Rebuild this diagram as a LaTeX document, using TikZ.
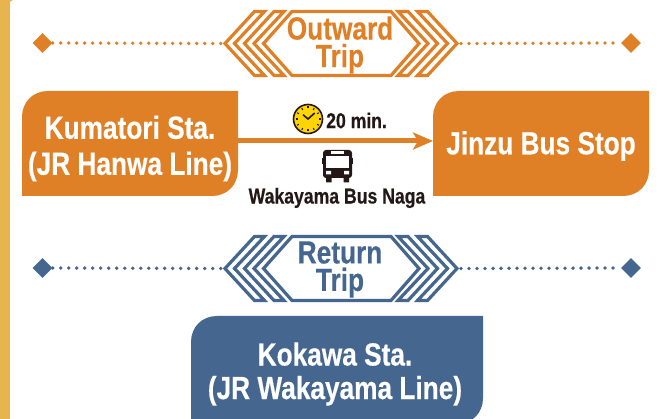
\documentclass[tikz,border=0pt]{standalone}
\usepackage{fontspec}
\setmainfont{Liberation Sans}[FakeStretch=0.82,BoldFont={Liberation Sans Bold},BoldFeatures={FakeBold=0.35}]
\usetikzlibrary{shapes.geometric,arrows.meta}
\definecolor{org}{HTML}{E08026}
\definecolor{blu}{HTML}{44668F}
\definecolor{gold}{HTML}{E8B450}
\definecolor{clk}{HTML}{FFD500}
\definecolor{ink}{HTML}{231815}
\newcommand\bannerat[2]{%
 \begin{scope}[shift={(0,#1)},line width=3.2pt,miter limit=10]
  \draw[#2] (263.5,0) -- (292,-32) -- (391,-32) -- (419,0) -- (391,32) -- (292,32) -- cycle;
  \foreach \c in {0,19.5}{
    \draw[#2] (225+\c,0) -- (254.5+\c,-32) -- (264.5+\c,-32) -- (234.5+\c,0) -- (264.5+\c,32) -- (254.5+\c,32) -- cycle;
    \draw[#2] (457-\c,0) -- (427.5-\c,-32) -- (417.5-\c,-32) -- (447.5-\c,0) -- (417.5-\c,32) -- (427.5-\c,32) -- cycle;
  }
 \end{scope}}
\newcommand\stationshape[5]{%
 \fill[#5] (#1,#4) -- (#1,#2+26) .. controls (#1,#2+11) and (#1+11,#2) .. (#1+26,#2) -- (#3,#2)
  -- (#3,#4-26) .. controls (#3,#4-11) and (#3-11,#4) .. (#3-26,#4) -- cycle;}
\tikzset{x=1pt,y=-1pt,
 boxtxt/.style={text=white,font=\bfseries\fontsize{32}{#1}\selectfont,align=center,inner sep=0pt},
 bannertxt/.style={font=\bfseries\fontsize{32}{27.5}\selectfont,align=center,inner sep=0pt},
 dia/.style={diamond,fill=#1,minimum width=20pt,minimum height=20pt,inner sep=0pt},
 dots/.style={draw=#1,line width=3.8pt,line cap=round,dash pattern=on 0pt off 8pt},
 blacktxt/.style={text=ink,font=\bfseries\fontsize{#1}{#1}\selectfont,inner sep=0pt}}
\begin{document}
\begin{tikzpicture}
\useasboundingbox (0,0) rectangle (661,419);
\fill[white] (0,0) rectangle (661,419);
\fill[gold] (0,0) rectangle (9.5,419);
\fill[gold] (9.5,0) -- (13,0) .. controls (10.5,0) and (9.5,2) .. (9.5,5) -- cycle;
% banners
\bannerat{43.5}{org}
\bannerat{268.5}{blu}
\node[bannertxt,text=org] (outw) at (340,45) {Outward\\Trip};
\node[bannertxt,text=blu] (retn) at (340,269.5) {Return\\Trip};
% dotted rules
\node[dia=org] (d1) at (42.5,43) {};
\node[dia=org] (d2) at (631,43) {};
\node[dia=blu] (d3) at (42.5,268) {};
\node[dia=blu] (d4) at (631,268) {};
\coordinate (c1) at (221,43.5); \coordinate (c2) at (461,43.5);
\coordinate (c3) at (221,268.5); \coordinate (c4) at (461,268.5);
\draw[dots=org] (d1.east) -- (c1);
\draw[dots=org] (c2) -- (d2.west);
\draw[dots=blu] (d3.east) -- (c3);
\draw[dots=blu] (c4) -- (d4.west);
% boxes
\stationshape{22}{91}{238}{196}{org}
\stationshape{433}{91}{649}{196}{org}
\stationshape{191}{316}{483}{424}{blu}
\node[boxtxt=36,minimum width=216pt,minimum height=105pt] (kum) at (130,148.5) {Kumatori Sta.\\(JR Hanwa Line)};
\node[boxtxt=36,minimum width=216pt,minimum height=105pt] (jin) at (541,146) {Jinzu Bus Stop};
\node[boxtxt=33.5] (kok) at (335,374) {Kokawa Sta.\\(JR Wakayama Line)};
% arrow
\coordinate (arrL) at (238,141); \coordinate (arrR) at (433,141);
\draw[org,line width=5pt,-{Triangle[length=20pt,width=17pt,inset=5pt]}] (arrL) -- (arrR);
% clock
\node[circle,draw=ink,fill=clk,line width=1.6pt,minimum size=29pt,inner sep=0pt] (clock) at (308,119) {};
\foreach \a in {0,30,...,330}
  \draw[ink,line width=1.1pt] (clock.center) ++(\a:10.5pt) -- ++(\a:2pt);
\draw[ink,line width=1.6pt,line join=miter] ([shift={(-5pt,4.3pt)}]clock.center) -- (clock.center) -- ([shift={(6.7pt,6pt)}]clock.center);
\node[blacktxt=21.5,anchor=west] (mins) at (326,120.5) {20 min.};
% bus
\fill[ink,rounded corners=3pt] (323,150) rectangle (352,178);
\fill[ink] (326,177) rectangle (331.5,182.5) (343.5,177) rectangle (349,182.5);
\fill[ink] (322,158) rectangle (353,164);
\fill[white] (326,156) rectangle (349,168);
\fill[white] (331,151.5) rectangle (344,154);
\fill[white] (326,171) rectangle (331,174.5) (344,171) rectangle (349,174.5);
\node[blacktxt=21.5] (bus) at (337,198) {Wakayama Bus Naga};
\end{tikzpicture}
\end{document}
